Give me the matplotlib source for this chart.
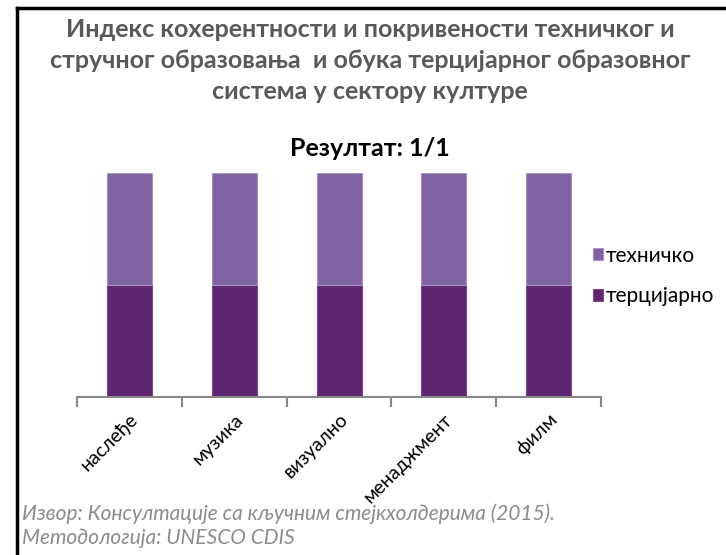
import numpy as np
import matplotlib.pyplot as plt

# --- data ---
categories = ["наслеђе", "музика", "визуално", "менаджмент", "филм"]
tertiary = [0.5, 0.5, 0.5, 0.5, 0.5]
technical = [0.5, 0.5, 0.5, 0.5, 0.5]

title = ("Индекс кохерентности и покривености техничког и\n"
         "стручног образовања  и обука терцијарног образовног\n"
         "система у сектору културе")
subtitle = "Резултат: 1/1"
footer = ("Извор: Консултације са кључним стејкхолдерима (2015).\n"
          "Методологија: UNESCO CDIS")

plt.rcParams["font.family"] = ["Lato", "DejaVu Sans"]

fig = plt.figure(figsize=(7.26, 5.55), dpi=100)
ax = fig.add_axes([0.106, 0.285, 0.722, 0.403])

x = np.arange(len(categories))
dark = "#5E2670"
light = "#8064A2"
ax.bar(x, tertiary, width=0.43, color=dark, edgecolor="#7a4a88", linewidth=0.8,
       label="терцијарно")
ax.bar(x, technical, bottom=tertiary, width=0.43, color=light,
       edgecolor="#a692c0", linewidth=0.8, label="техничко")

ax.set_xlim(-0.5, len(categories) - 0.5)
ax.set_ylim(0, 1)
ax.set_yticks([])
for s in ["top", "right", "left"]:
    ax.spines[s].set_visible(False)
ax.spines["bottom"].set_color("#888888")
ax.spines["bottom"].set_linewidth(1.5)

ax.set_xticks(x)
ax.set_xticklabels(categories, rotation=45, ha="right", rotation_mode="anchor",
                   fontsize=14)
ax.tick_params(axis="x", which="major", length=0, pad=10)
ax.set_xticks(np.arange(len(categories) + 1) - 0.5, minor=True)
ax.tick_params(axis="x", which="minor", length=7, width=1.5, color="#888888")

handles, labels = ax.get_legend_handles_labels()
ax.legend(handles[::-1], labels[::-1], loc="center left", bbox_to_anchor=(0.96, 0.54),
          frameon=False, fontsize=15, handlelength=0.5, handleheight=0.5,
          handletextpad=0.15, labelspacing=1.0, borderaxespad=0.2)

fig.text(0.51, 0.967, title, ha="center", va="top", fontsize=18,
         fontweight="bold", color="#595959", linespacing=1.42)
fig.text(0.51, 0.733, subtitle, ha="center", va="center", fontsize=18,
         fontweight="bold", color="black")
fig.text(0.03, 0.012, footer, ha="left", va="bottom", fontsize=15,
         style="italic", color="#8c8c8c", linespacing=1.27)

# frame on left and top only
fig.add_artist(plt.Line2D([0.023, 0.023], [0, 0.986], color="black", lw=2.5,
                          transform=fig.transFigure))
fig.add_artist(plt.Line2D([0.023, 1.0], [0.986, 0.986], color="black", lw=2.5,
                          transform=fig.transFigure))

fig.savefig("out.png", dpi=100)
